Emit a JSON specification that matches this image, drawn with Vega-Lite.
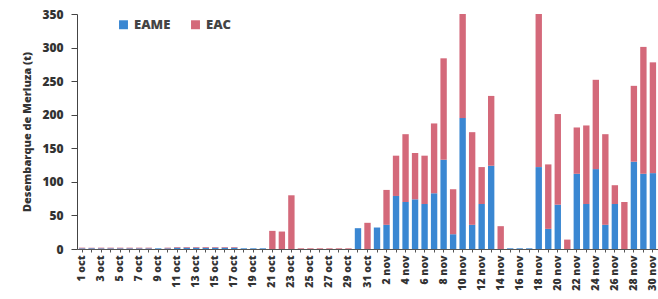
{
  "$schema": "https://vega.github.io/schema/vega-lite/v6.json",
  "width": 581,
  "height": 235,
  "autosize": "none",
  "padding": {"left": 77, "top": 14, "right": 0, "bottom": 50},
  "background": "white",
  "config": {"view": {"stroke": null}, "font": "Open Sans"},
  "data": {"values": [
    {"fecha": "1 oct", "EAME": 1, "EAC": 1},
    {"fecha": "2 oct", "EAME": 1, "EAC": 1},
    {"fecha": "3 oct", "EAME": 1, "EAC": 1},
    {"fecha": "4 oct", "EAME": 1, "EAC": 1},
    {"fecha": "5 oct", "EAME": 1, "EAC": 1},
    {"fecha": "6 oct", "EAME": 1, "EAC": 1},
    {"fecha": "7 oct", "EAME": 1, "EAC": 1},
    {"fecha": "8 oct", "EAME": 1, "EAC": 1},
    {"fecha": "9 oct", "EAME": 1, "EAC": 0},
    {"fecha": "10 oct", "EAME": 1, "EAC": 1},
    {"fecha": "11 oct", "EAME": 2, "EAC": 1},
    {"fecha": "12 oct", "EAME": 2, "EAC": 1},
    {"fecha": "13 oct", "EAME": 2, "EAC": 1},
    {"fecha": "14 oct", "EAME": 2, "EAC": 1},
    {"fecha": "15 oct", "EAME": 2, "EAC": 1},
    {"fecha": "16 oct", "EAME": 2, "EAC": 1},
    {"fecha": "17 oct", "EAME": 2, "EAC": 1},
    {"fecha": "18 oct", "EAME": 1, "EAC": 0},
    {"fecha": "19 oct", "EAME": 1, "EAC": 0},
    {"fecha": "20 oct", "EAME": 1, "EAC": 0},
    {"fecha": "21 oct", "EAME": 0, "EAC": 27},
    {"fecha": "22 oct", "EAME": 0, "EAC": 26},
    {"fecha": "23 oct", "EAME": 0, "EAC": 80},
    {"fecha": "24 oct", "EAME": 0, "EAC": 1},
    {"fecha": "25 oct", "EAME": 0, "EAC": 1},
    {"fecha": "26 oct", "EAME": 0, "EAC": 1},
    {"fecha": "27 oct", "EAME": 0, "EAC": 1},
    {"fecha": "28 oct", "EAME": 0, "EAC": 1},
    {"fecha": "29 oct", "EAME": 0, "EAC": 1},
    {"fecha": "30 oct", "EAME": 31, "EAC": 0},
    {"fecha": "31 oct", "EAME": 0, "EAC": 39},
    {"fecha": "1 nov", "EAME": 32, "EAC": 0},
    {"fecha": "2 nov", "EAME": 36, "EAC": 52},
    {"fecha": "3 nov", "EAME": 79, "EAC": 60},
    {"fecha": "4 nov", "EAME": 70, "EAC": 101},
    {"fecha": "5 nov", "EAME": 74, "EAC": 69},
    {"fecha": "6 nov", "EAME": 67, "EAC": 72},
    {"fecha": "7 nov", "EAME": 83, "EAC": 104},
    {"fecha": "8 nov", "EAME": 133, "EAC": 151},
    {"fecha": "9 nov", "EAME": 22, "EAC": 67},
    {"fecha": "10 nov", "EAME": 195, "EAC": 155},
    {"fecha": "11 nov", "EAME": 36, "EAC": 138},
    {"fecha": "12 nov", "EAME": 67, "EAC": 55},
    {"fecha": "13 nov", "EAME": 124, "EAC": 104},
    {"fecha": "14 nov", "EAME": 0, "EAC": 34},
    {"fecha": "15 nov", "EAME": 1, "EAC": 0},
    {"fecha": "16 nov", "EAME": 1, "EAC": 0},
    {"fecha": "17 nov", "EAME": 1, "EAC": 0},
    {"fecha": "18 nov", "EAME": 122, "EAC": 228},
    {"fecha": "19 nov", "EAME": 30, "EAC": 96},
    {"fecha": "20 nov", "EAME": 66, "EAC": 135},
    {"fecha": "21 nov", "EAME": 0, "EAC": 14},
    {"fecha": "22 nov", "EAME": 112, "EAC": 69},
    {"fecha": "23 nov", "EAME": 67, "EAC": 117},
    {"fecha": "24 nov", "EAME": 119, "EAC": 133},
    {"fecha": "25 nov", "EAME": 36, "EAC": 135},
    {"fecha": "26 nov", "EAME": 67, "EAC": 28},
    {"fecha": "27 nov", "EAME": 0, "EAC": 70},
    {"fecha": "28 nov", "EAME": 130, "EAC": 113},
    {"fecha": "29 nov", "EAME": 112, "EAC": 189},
    {"fecha": "30 nov", "EAME": 113, "EAC": 165}
  ]},
  "transform": [{"fold": ["EAME", "EAC"], "as": ["serie", "t"]}],
  "mark": {"type": "bar"},
  "encoding": {
    "x": {
      "field": "fecha", "type": "ordinal", "sort": null,
      "scale": {"paddingInner": 0.33, "paddingOuter": 0.2},
      "axis": {
        "title": null, "labelAngle": -90, "labelFontSize": 10.5, "labelFontWeight": 800,
        "labelColor": "#333333", "tickSize": 3, "tickColor": "#555555", "domainColor": "#555555",
        "labelPadding": 3,
        "labelExpr": "((indexof(datum.value, 'oct') > 0) == (parseInt(datum.value) % 2 == 1)) ? datum.value : ''"
      }
    },
    "y": {
      "field": "t", "type": "quantitative", "stack": "zero",
      "scale": {"domain": [0, 350], "nice": false},
      "axis": {
        "title": "Desembarque de Merluza (t)", "titleFontSize": 11, "titleFontWeight": 800,
        "titleColor": "#333333", "titlePadding": 9,
        "values": [0, 50, 100, 150, 200, 250, 300, 350], "grid": false,
        "labelFontSize": 12, "labelFontWeight": 800, "labelColor": "#333333",
        "tickSize": 6, "tickColor": "#444444", "domainColor": "#444444", "labelPadding": 8
      }
    },
    "color": {
      "field": "serie", "type": "nominal", "sort": ["EAME", "EAC"],
      "scale": {"domain": ["EAME", "EAC"], "range": ["#3a87d2", "#d4697a"]},
      "legend": {
        "title": null, "orient": "none", "legendX": 40, "legendY": 4, "direction": "horizontal",
        "symbolType": "square", "symbolSize": 80, "labelFontSize": 13, "labelFontWeight": 800,
        "labelColor": "#444444", "columnPadding": 18, "symbolStrokeWidth": 0, "labelOffset": 4
      }
    }
  }
}
